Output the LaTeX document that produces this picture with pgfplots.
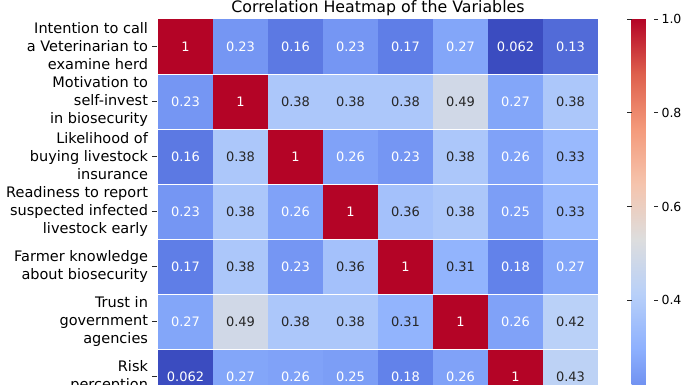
\documentclass[border=0pt]{standalone}
\usepackage{fontspec}
\setmainfont{DejaVu Sans}
\usepackage{pgfplots}
\usepackage{pgfplotstable}
\pgfplotsset{compat=1.18}
\definecolor{annotdark}{RGB}{38,38,38}
\definecolor{tickgray}{RGB}{40,40,40}

\pgfplotstableread{
x y v
0 0 1
1 0 0.23
2 0 0.16
3 0 0.23
4 0 0.17
5 0 0.27
6 0 0.062
7 0 0.13
0 1 0.23
1 1 1
2 1 0.38
3 1 0.38
4 1 0.38
5 1 0.49
6 1 0.27
7 1 0.38
0 2 0.16
1 2 0.38
2 2 1
3 2 0.26
4 2 0.23
5 2 0.38
6 2 0.26
7 2 0.33
0 3 0.23
1 3 0.38
2 3 0.26
3 3 1
4 3 0.36
5 3 0.38
6 3 0.25
7 3 0.33
0 4 0.17
1 4 0.38
2 4 0.23
3 4 0.36
4 4 1
5 4 0.31
6 4 0.18
7 4 0.27
0 5 0.27
1 5 0.49
2 5 0.38
3 5 0.38
4 5 0.31
5 5 1
6 5 0.26
7 5 0.42
0 6 0.062
1 6 0.27
2 6 0.26
3 6 0.25
4 6 0.18
5 6 0.26
6 6 1
7 6 0.43
0 7 0.13
1 7 0.38
2 7 0.33
3 7 0.33
4 7 0.27
5 7 0.42
6 7 0.43
7 7 1
}\cells

\pgfplotstableread{
x y lab
0 0 1
1 0 0.23
2 0 0.16
3 0 0.23
4 0 0.17
5 0 0.27
6 0 0.062
7 0 0.13
0 1 0.23
1 1 1
6 1 0.27
0 2 0.16
2 2 1
3 2 0.26
4 2 0.23
6 2 0.26
0 3 0.23
2 3 0.26
3 3 1
6 3 0.25
0 4 0.17
2 4 0.23
4 4 1
6 4 0.18
7 4 0.27
0 5 0.27
5 5 1
6 5 0.26
0 6 0.062
1 6 0.27
2 6 0.26
3 6 0.25
4 6 0.18
5 6 0.26
6 6 1
0 7 0.13
4 7 0.27
7 7 1
}\whitelabs

\pgfplotstableread{
x y lab
2 1 0.38
3 1 0.38
4 1 0.38
5 1 0.49
7 1 0.38
1 2 0.38
5 2 0.38
7 2 0.33
1 3 0.38
4 3 0.36
5 3 0.38
7 3 0.33
1 4 0.38
3 4 0.36
5 4 0.31
1 5 0.49
2 5 0.38
3 5 0.38
4 5 0.31
7 5 0.42
7 6 0.43
1 7 0.38
2 7 0.33
3 7 0.33
5 7 0.42
6 7 0.43
}\darklabs

\begin{document}
\begin{tikzpicture}
\useasboundingbox (0pt,0pt) rectangle (685pt,-385pt);
\clip (0pt,0pt) rectangle (685pt,-385pt);
\begin{axis}[
  at={(158pt,-19pt)}, anchor=north west,
  width=440pt, height=440pt, scale only axis,
  xmin=-0.5, xmax=7.5, ymin=-0.5, ymax=7.5, y dir=reverse,
  axis line style={draw=none},
  xtick=\empty,
  ytick={0,...,6},
  ytick pos=left,
  yticklabels={
    {Intention to call\\a Veterinarian to\\examine herd},
    {Motivation to\\self-invest\\in biosecurity},
    {Likelihood of\\buying livestock\\insurance},
    {Readiness to report\\suspected infected\\livestock early},
    {Farmer knowledge\\about biosecurity},
    {Trust in\\government\\agencies},
    {Risk\\perception}},
  yticklabel style={align=right, font=\fontsize{14.5}{18}\selectfont, text=black, xshift=-2pt},
  major tick length=4.5pt, tick align=outside,
  ytick style={draw=tickgray, line width=0.9pt, xshift=-1.5pt},
  minor xtick={0.5,1.5,...,6.5},
  minor ytick={0.5,1.5,...,6.5},
  minor tick length=0pt,
  grid=minor,
  minor grid style={white, line width=1pt},
  axis on top,
  colormap={coolwarm}{rgb255=(59,76,192) rgb255=(98,130,234) rgb255=(141,176,254) rgb255=(184,208,249) rgb255=(221,221,221) rgb255=(245,196,173) rgb255=(244,154,123) rgb255=(222,96,77) rgb255=(180,4,38)},
  point meta min=0.062, point meta max=1,
  colorbar,
  colorbar style={
    at={(parent axis.north east)}, anchor=north west, xshift=25pt,
    width=22pt,
    ytick={0.4,0.6,0.8,1.0},
    axis line style={draw=none},
    major tick length=4.5pt, tick align=outside,
    ytick style={draw=tickgray, line width=0.9pt},
    yticklabel pos=right,
    yticklabel style={font=\fontsize{12.5}{14}\selectfont, text=black,
      /pgf/number format/.cd, fixed, fixed zerofill, precision=1, assume math mode=true},
  },
  title={Correlation Heatmap of the Variables},
  title style={font=\fontsize{15.8}{18}\selectfont, at={(0.5,1)}, anchor=base, yshift=1pt},
]
\addplot[matrix plot*, mesh/cols=8, point meta=explicit] table[x=x, y=y, meta=v]{\cells};
\addplot[draw=none, mark=none, nodes near coords, point meta=explicit symbolic,
  nodes near coords align=center,
  every node near coord/.append style={font=\fontsize{13}{15}\selectfont, text=white, anchor=center}]
  table[x=x, y=y, meta=lab]{\whitelabs};
\addplot[draw=none, mark=none, nodes near coords, point meta=explicit symbolic,
  nodes near coords align=center,
  every node near coord/.append style={font=\fontsize{13}{15}\selectfont, text=annotdark, anchor=center}]
  table[x=x, y=y, meta=lab]{\darklabs};
\end{axis}
\end{tikzpicture}
\end{document}
